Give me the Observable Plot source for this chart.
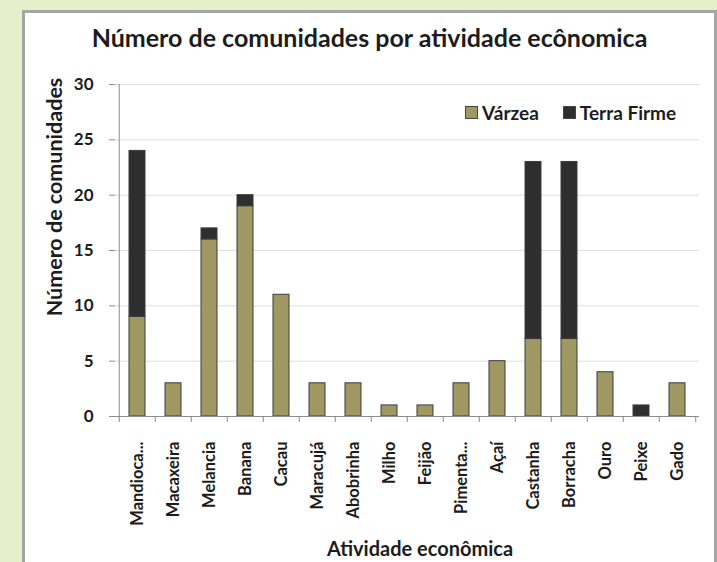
<!DOCTYPE html>
<html>
<head>
<meta charset="utf-8">
<script src="https://cdn.jsdelivr.net/npm/d3@7"></script>
<script src="https://cdn.jsdelivr.net/npm/@observablehq/plot@0.6"></script>
<style>
  html, body { margin: 0; padding: 0; }
  #wrap { position: relative; width: 717px; height: 562px; background: #e6efca; overflow: hidden; font-family: Lato, "Open Sans", sans-serif; }
  #frame { position: absolute; left: 22px; top: 10px; width: 695px; height: 620px; box-sizing: border-box; background: #fff; border: 3px solid #a6a6a6; }
  #chart { position: absolute; left: 0; top: 0; }
  .t { position: absolute; font-weight: bold; color: #1c1c1c; white-space: nowrap; line-height: 1; }
  #title { left: 22px; width: 695px; top: 25px; text-align: center; font-size: 25px; }
  #ytitle { left: 55px; top: 197px; font-size: 21.5px; transform: translate(-50%, -50%) rotate(-90deg); }
  #xtitle { left: 420px; top: 548px; font-size: 20px; transform: translate(-50%, -50%); }
  #legend { position: absolute; left: 465px; top: 103px; font-size: 19px; font-weight: bold; color: #1c1c1c; display: flex; align-items: center; line-height: 1; }
  .sw { display: inline-block; width: 11px; height: 11px; border: 1px solid #444; margin-right: 4px; }
  .item { display: flex; align-items: center; margin-right: 24px; }
</style>
</head>
<body>
<div id="wrap">
  <div id="frame"></div>
  <div id="chart"></div>
  <div class="t" id="title"></div>
  <div class="t" id="ytitle"></div>
  <div class="t" id="xtitle"></div>
  <div id="legend"></div>
</div>
<script>
const titleText = "Número de comunidades por atividade ecônomica";
const yTitle = "Número de comunidades";
const xTitle = "Atividade econômica";
const seriesNames = ["Várzea", "Terra Firme"];
const seriesColors = ["#9f9862", "#2e2e2e"];
const categories = ["Mandioca...", "Macaxeira", "Melancia", "Banana", "Cacau", "Maracujá", "Abobrinha", "Milho", "Feijão", "Pimenta...", "Açaí", "Castanha", "Borracha", "Ouro", "Peixe", "Gado"];
const varzea =     [9, 3, 16, 19, 11, 3, 3, 1, 1, 3, 5, 7, 7, 4, 0, 3];
const terraFirme = [15, 0, 1, 1, 0, 0, 0, 0, 0, 0, 0, 16, 16, 0, 1, 0];
const yTicks = [0, 5, 10, 15, 20, 25, 30];

document.getElementById("title").textContent = titleText;
document.getElementById("ytitle").textContent = yTitle;
document.getElementById("xtitle").textContent = xTitle;
const leg = document.getElementById("legend");
seriesNames.forEach((s, i) => {
  const it = document.createElement("span");
  it.className = "item";
  const sw = document.createElement("span");
  sw.className = "sw";
  sw.style.background = seriesColors[i];
  it.appendChild(sw);
  it.appendChild(document.createTextNode(s));
  leg.appendChild(it);
});

const rows = [];
categories.forEach((c, i) => {
  if (varzea[i] > 0) rows.push({cat: c, series: seriesNames[0], value: varzea[i]});
  if (terraFirme[i] > 0) rows.push({cat: c, series: seriesNames[1], value: terraFirme[i]});
});

const W = 717, H = 562;
const mL = 115, mR = 18, mT = 84, mB = 146;
const step = (W - mL - mR) / categories.length;
const plotH = H - mT - mB;

const chart = Plot.plot({
  width: W, height: H,
  marginLeft: mL, marginRight: mR, marginTop: mT, marginBottom: mB,
  style: {background: "transparent", fontFamily: "Lato, 'Open Sans', sans-serif", fontSize: "16px", fontWeight: "bold", color: "#1c1c1c"},
  x: {domain: categories, paddingInner: 0.56, paddingOuter: 0.28, axis: null},
  y: {domain: [0, 30], axis: null},
  color: {domain: seriesNames, range: seriesColors},
  marks: [
    Plot.ruleY(yTicks.slice(1), {stroke: "#dedede", strokeWidth: 1}),
    Plot.barY(rows, {x: "cat", y: "value", fill: "series", stroke: "#3c3c3c", strokeWidth: 1, order: seriesNames}),
    Plot.ruleY([0], {stroke: "#8c8c8c"}),
    Plot.ruleX([categories[0]], {dx: -step / 2, stroke: "#8c8c8c"}),
    Plot.ruleX(categories, {dx: -step / 2, stroke: "#8c8c8c", insetTop: plotH, insetBottom: -6}),
    Plot.ruleX([categories[categories.length - 1]], {dx: step / 2, stroke: "#8c8c8c", insetTop: plotH, insetBottom: -6}),
    Plot.ruleY(yTicks, {stroke: "#8c8c8c", insetRight: W - mL - mR, insetLeft: -6}),
    Plot.axisY({ticks: yTicks, tickSize: 0, tickPadding: 22, fontSize: 17, fill: "#1c1c1c", label: null}),
    Plot.axisX({tickRotate: -90, tickSize: 0, tickPadding: 25, fontSize: 16.5, fill: "#1c1c1c", label: null})
  ]
});
document.getElementById("chart").appendChild(chart);
</script>
</body>
</html>
